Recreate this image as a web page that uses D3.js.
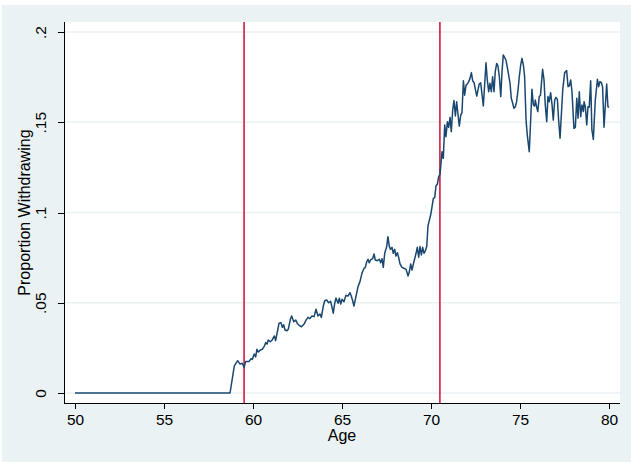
<!DOCTYPE html>
<html lang="en">
<head>
	<meta charset="utf-8">
	<title>proportion withdrawing by age</title>
	<script src="https://d3js.org/d3.v7.min.js"></script>
	<style type="text/css">
		body { margin: 0; background: #ffffff; }
		svg text { font-family: "Liberation Sans", Arial, sans-serif; fill: #000; }
		.Axis path, .Axis line { stroke: #000; shape-rendering: crispEdges; }
	</style>
</head>
<body>
	<svg id="chart"></svg>

	<script type="text/javascript">
		//============================================================
		//                          data
		//============================================================

		// age in years (monthly-ish points)
		var ages = [
			50, 58.71, 58.95, 59.14, 59.27, 59.4, 59.5, 59.59, 59.78, 59.89, 59.96,
			60.07, 60.15, 60.22, 60.3, 60.41, 60.52, 60.64, 60.71, 60.79, 60.86, 60.97,
			61.08, 61.2, 61.27, 61.39, 61.46, 61.57, 61.65, 61.72, 61.8, 61.91, 61.98,
			62.1, 62.17, 62.29, 62.4, 62.51, 62.64, 62.73, 62.87, 62.98,
			63.09, 63.2, 63.31, 63.43, 63.54, 63.65, 63.76, 63.84, 63.95,
			64.03, 64.14, 64.25, 64.36, 64.44, 64.51, 64.59, 64.66, 64.78, 64.85, 64.93,
			65.0, 65.11, 65.22, 65.34, 65.45, 65.52, 65.6, 65.67, 65.79, 65.9,
			66.01, 66.12, 66.24, 66.31, 66.39, 66.46, 66.53, 66.61, 66.72, 66.8, 66.87, 66.98,
			67.1, 67.17, 67.25, 67.32, 67.4, 67.51, 67.58, 67.66, 67.73, 67.81, 67.88, 67.96,
			68.03, 68.11, 68.18, 68.26, 68.37, 68.48, 68.6, 68.71, 68.78, 68.86, 68.93,
			69.04, 69.16, 69.23, 69.31, 69.38, 69.46, 69.53, 69.61, 69.68, 69.76, 69.83, 69.9, 69.98,
			70.06, 70.13, 70.21, 70.28, 70.36, 70.43, 70.51, 70.62, 70.69, 70.77, 70.84, 70.92, 70.99,
			71.07, 71.14, 71.22, 71.29, 71.37, 71.44, 71.52, 71.59, 71.67, 71.74, 71.82, 71.89, 71.97,
			72.04, 72.12, 72.19, 72.27, 72.34, 72.42, 72.49, 72.57, 72.64, 72.71, 72.79, 72.87, 72.94,
			73.02, 73.09, 73.16, 73.24, 73.31, 73.39, 73.46, 73.54, 73.61, 73.69, 73.76, 73.84, 73.92, 73.99,
			74.06, 74.21, 74.33, 74.44, 74.51, 74.59, 74.66, 74.74, 74.81, 74.89, 74.96,
			75.04, 75.11, 75.19, 75.26, 75.34, 75.41, 75.52, 75.6, 75.67, 75.75, 75.82, 75.86, 75.93,
			76.0, 76.08, 76.15, 76.27, 76.35, 76.42, 76.5, 76.57, 76.64, 76.72, 76.8, 76.87, 76.95,
			77.02, 77.1, 77.17, 77.25, 77.4, 77.51, 77.62, 77.7, 77.77, 77.85, 77.92,
			78.03, 78.11, 78.19, 78.26, 78.33, 78.41, 78.48, 78.56, 78.6, 78.67, 78.75, 78.82, 78.89, 78.97,
			79.04, 79.12, 79.23, 79.35, 79.42, 79.49, 79.57, 79.64, 79.72, 79.79, 79.87, 79.94, 80.0
		]

		// proportion withdrawing at each age above
		var shares = [
			0, 0, .015, .0179, .016, .0165, .0142, .0175, .0175, .019, .0186,
			.0216, .020, .0242, .0227, .0238, .0242, .026, .0279, .0271, .0294, .0284,
			.0294, .0316, .029, .0349, .0386, .039, .0364, .0378, .0349, .0345, .0353,
			.0408, .0427, .0395, .0404, .0382, .0371, .0367, .0382, .0404,
			.0419, .0412, .0427, .0423, .0464, .0427, .0438, .0419, .0482,
			.0511, .0515, .05, .0508, .0475, .0442, .0497, .0526, .0497, .0525, .0493,
			.0519, .0506, .0541, .0537, .0556, .0537, .0511, .0482, .0537, .0589,
			.0617, .0663, .0691, .0696, .0727, .0741, .0722, .0737, .0744, .077, .0737, .0733,
			.0741, .0722, .0744, .0696, .0774, .0811, .0866, .0811, .0796, .0807, .0774, .0796,
			.0759, .0777, .0752, .0715, .0696, .0691, .0685, .0648, .067, .0715, .0681,
			.0727, .0774, .0807, .0752, .0811, .0765, .0807, .0774, .0788, .0811, .0925, .0955, .0986,
			.1032, .1077, .1084, .1147, .1158, .1198, .1213, .1337, .13, .1485, .142, .1503, .1472,
			.1527, .1448, .1568, .162, .1535, .1614, .154, .1479, .154, .1553, .173, .165, .1706,
			.1712, .1725, .1743, .1775, .173, .1719, .1683, .1645, .1679, .1712, .1719, .165, .159,
			.1716, .183, .1738, .1669, .1716, .1669, .1752, .1669, .178, .1826, .1812, .1752, .1642, .178,
			.1873, .1845, .178, .1716, .1633, .1605, .1577, .1586, .1614, .1679, .1752,
			.1817, .1854, .1817, .1752, .1512, .1429, .1337, .1512, .1683, .1596, .159, .1623, .1586,
			.1559, .1642, .165, .1793, .1734, .1596, .1503, .1642, .1614, .1664, .1596, .1512, .1623,
			.1638, .1627, .1512, .1411, .1679, .1775, .1786, .1697, .1701, .1734, .1669,
			.1466, .1472, .1633, .1522, .1669, .1531, .1596, .1559, .1614, .1586, .1485, .1586, .1583, .173,
			.1457, .1405, .1623, .1738, .1697, .1725, .1719, .1697, .1472, .1586, .1712, .1586, .1583
		]

		// vertical reference lines
		var cutoffAges = [59.5, 70.5]

		// ticks
		var xTickValues = [50, 55, 60, 65, 70, 75, 80]
		var yTickValues = [0, .05, .1, .15, .2]
		var yTickLabels = ["0", ".05", ".1", ".15", ".2"]

		var xTitle = "Age"
		var yTitle = "Proportion Withdrawing"

		//============================================================
		//                          init
		//============================================================

		var navy = "#1a476f"
		var red = "#d21c42"
		var bgBlue = "#eaf2f3"

		var wholeW = 631
		var wholeH = 464

		// plot region (white box)
		var plot = {left: 64, right: 620, top: 22, bottom: 403}

		var xScale = d3.scaleLinear().domain([50, 80]).range([75, 609])
		var yScale = d3.scaleLinear().domain([0, .2]).range([393, 32])

		var data = ages.map((a, i) => ({age: a, share: shares[i]}))

		var line = d3.line()
						.x(d => xScale(d.age))
						.y(d => yScale(d.share))

		var svg = d3.select("#chart")
						.attr("width", wholeW)
						.attr("height", wholeH)

		//============================================================
		//                          draw
		//============================================================

		// graph region background
		svg.append("rect")
			.attr("x", 2).attr("y", 5)
			.attr("width", wholeW - 2).attr("height", wholeH - 7)
			.attr("fill", bgBlue)

		// plot region
		svg.append("rect")
			.attr("x", plot.left).attr("y", plot.top)
			.attr("width", plot.right - plot.left).attr("height", plot.bottom - plot.top)
			.attr("fill", "#ffffff")

		// grid lines
		svg.append("g")
			.selectAll("line")
			.data(yTickValues)
			.join("line")
				.attr("x1", plot.left).attr("x2", plot.right)
				.attr("y1", d => yScale(d)).attr("y2", d => yScale(d))
				.attr("stroke", bgBlue)
				.attr("stroke-width", 1.5)

		// cutoff lines
		svg.append("g")
			.selectAll("line")
			.data(cutoffAges)
			.join("line")
				.attr("x1", d => xScale(d)).attr("x2", d => xScale(d))
				.attr("y1", plot.top).attr("y2", plot.bottom)
				.attr("stroke", red)
				.attr("stroke-width", 1.6)

		// series
		svg.append("path")
			.attr("d", line(data))
			.attr("fill", "none")
			.attr("stroke", navy)
			.attr("stroke-width", 1.5)
			.attr("stroke-linejoin", "round")

		// y axis
		var yAxis = d3.axisLeft(yScale)
						.tickValues(yTickValues)
						.tickFormat((d, i) => yTickLabels[i])
						.tickSize(6)
						.tickSizeOuter(0)

		var gy = svg.append("g")
			.attr("class", "y Axis")
			.attr("transform", "translate(" + plot.left + ",0)")
			.call(yAxis)
		gy.select(".domain").remove()
		gy.selectAll("text")
			.attr("x", null).attr("dy", null)
			.attr("text-anchor", "middle")
			.attr("transform", "translate(-18,0) rotate(-90)")
			.style("font-size", "15.5px")
		gy.append("line")
			.attr("x1", 0).attr("x2", 0)
			.attr("y1", plot.top).attr("y2", plot.bottom)
			.attr("stroke", "#000")

		// x axis
		var xAxis = d3.axisBottom(xScale)
						.tickValues(xTickValues)
						.tickFormat(d3.format("d"))
						.tickSize(6)
						.tickSizeOuter(0)

		var gx = svg.append("g")
			.attr("class", "x Axis")
			.attr("transform", "translate(0," + plot.bottom + ")")
			.call(xAxis)
		gx.select(".domain").remove()
		gx.selectAll("text")
			.attr("y", 22).attr("dy", null)
			.style("font-size", "15.5px")
		gx.append("line")
			.attr("x1", plot.left).attr("x2", plot.right)
			.attr("y1", 0).attr("y2", 0)
			.attr("stroke", "#000")

		// axis titles
		svg.append("text")
			.attr("x", xScale(65))
			.attr("y", 441)
			.attr("text-anchor", "middle")
			.style("font-size", "16px")
			.text(xTitle)

		svg.append("text")
			.attr("transform", "translate(30," + ((plot.top + plot.bottom) / 2) + ") rotate(-90)")
			.attr("text-anchor", "middle")
			.style("font-size", "16px")
			.text(yTitle)
	</script>
</body>
</html>
